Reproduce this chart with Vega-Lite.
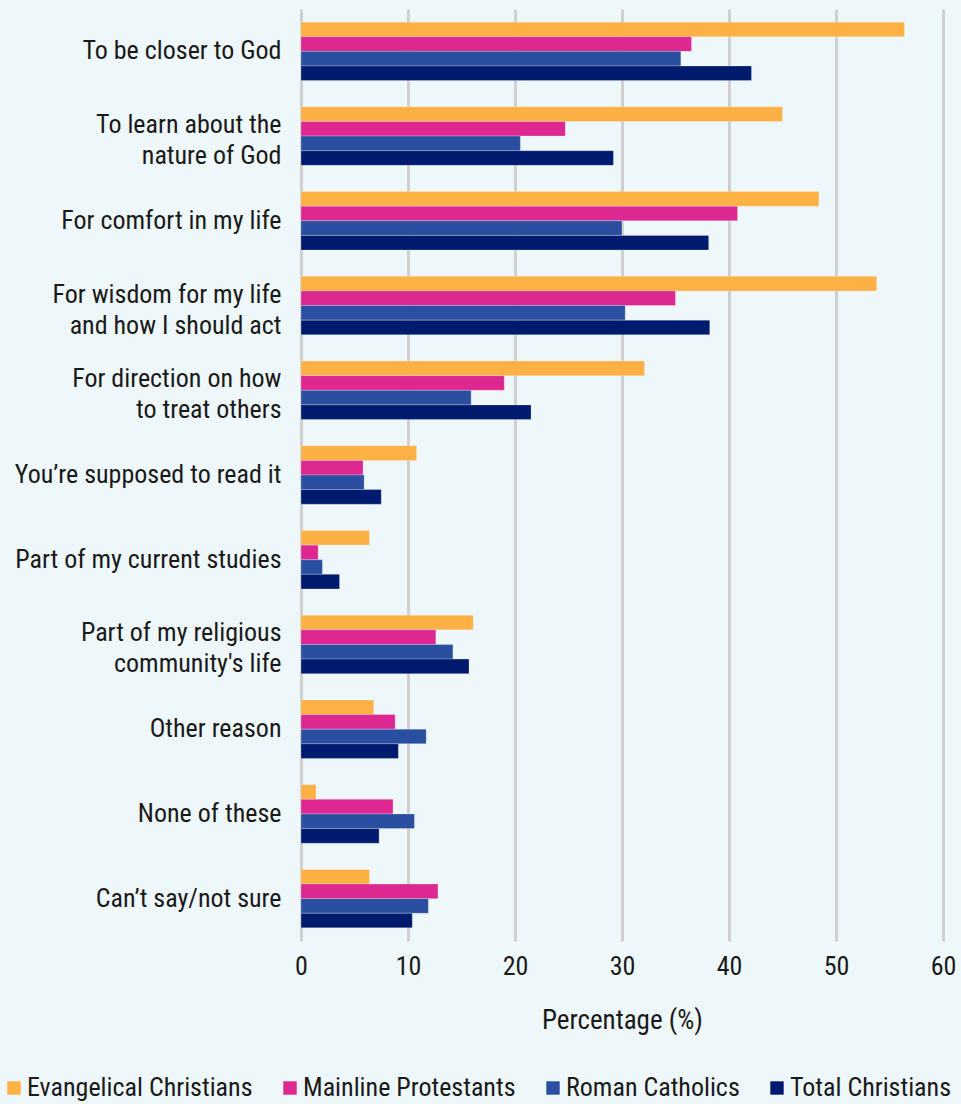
{
  "$schema": "https://vega.github.io/schema/vega-lite/v6.json",
  "width": 642,
  "height": 932,
  "autosize": {"type": "none"},
  "padding": {"left": 301, "top": 9, "right": 18, "bottom": 163},
  "background": "#eef7f9",
  "config": {
    "view": {"stroke": null},
    "font": "Roboto Condensed",
    "axis": {"labelColor": "#1a1a1a", "titleColor": "#1a1a1a", "labelFont": "Roboto Condensed", "titleFont": "Roboto Condensed"},
    "legend": {"labelFont": "Roboto Condensed"}
  },
  "data": {
    "values": [
      {"cat": "To be closer to God", "group": "Evangelical Christians", "value": 56.4},
      {"cat": "To be closer to God", "group": "Mainline Protestants", "value": 36.5},
      {"cat": "To be closer to God", "group": "Roman Catholics", "value": 35.5},
      {"cat": "To be closer to God", "group": "Total Christians", "value": 42.1},
      {"cat": "To learn about the|nature of God", "group": "Evangelical Christians", "value": 45.0},
      {"cat": "To learn about the|nature of God", "group": "Mainline Protestants", "value": 24.7},
      {"cat": "To learn about the|nature of God", "group": "Roman Catholics", "value": 20.5},
      {"cat": "To learn about the|nature of God", "group": "Total Christians", "value": 29.2},
      {"cat": "For comfort in my life", "group": "Evangelical Christians", "value": 48.4},
      {"cat": "For comfort in my life", "group": "Mainline Protestants", "value": 40.8},
      {"cat": "For comfort in my life", "group": "Roman Catholics", "value": 30.0},
      {"cat": "For comfort in my life", "group": "Total Christians", "value": 38.1},
      {"cat": "For wisdom for my life|and how I should act", "group": "Evangelical Christians", "value": 53.8},
      {"cat": "For wisdom for my life|and how I should act", "group": "Mainline Protestants", "value": 35.0},
      {"cat": "For wisdom for my life|and how I should act", "group": "Roman Catholics", "value": 30.3},
      {"cat": "For wisdom for my life|and how I should act", "group": "Total Christians", "value": 38.2},
      {"cat": "For direction on how|to treat others", "group": "Evangelical Christians", "value": 32.1},
      {"cat": "For direction on how|to treat others", "group": "Mainline Protestants", "value": 19.0},
      {"cat": "For direction on how|to treat others", "group": "Roman Catholics", "value": 15.9},
      {"cat": "For direction on how|to treat others", "group": "Total Christians", "value": 21.5},
      {"cat": "You’re supposed to read it", "group": "Evangelical Christians", "value": 10.8},
      {"cat": "You’re supposed to read it", "group": "Mainline Protestants", "value": 5.8},
      {"cat": "You’re supposed to read it", "group": "Roman Catholics", "value": 5.9},
      {"cat": "You’re supposed to read it", "group": "Total Christians", "value": 7.5},
      {"cat": "Part of my current studies", "group": "Evangelical Christians", "value": 6.4},
      {"cat": "Part of my current studies", "group": "Mainline Protestants", "value": 1.6},
      {"cat": "Part of my current studies", "group": "Roman Catholics", "value": 2.0},
      {"cat": "Part of my current studies", "group": "Total Christians", "value": 3.6},
      {"cat": "Part of my religious|community's life", "group": "Evangelical Christians", "value": 16.1},
      {"cat": "Part of my religious|community's life", "group": "Mainline Protestants", "value": 12.6},
      {"cat": "Part of my religious|community's life", "group": "Roman Catholics", "value": 14.2},
      {"cat": "Part of my religious|community's life", "group": "Total Christians", "value": 15.7},
      {"cat": "Other reason", "group": "Evangelical Christians", "value": 6.8},
      {"cat": "Other reason", "group": "Mainline Protestants", "value": 8.8},
      {"cat": "Other reason", "group": "Roman Catholics", "value": 11.7},
      {"cat": "Other reason", "group": "Total Christians", "value": 9.1},
      {"cat": "None of these", "group": "Evangelical Christians", "value": 1.4},
      {"cat": "None of these", "group": "Mainline Protestants", "value": 8.6},
      {"cat": "None of these", "group": "Roman Catholics", "value": 10.6},
      {"cat": "None of these", "group": "Total Christians", "value": 7.3},
      {"cat": "Can’t say/not sure", "group": "Evangelical Christians", "value": 6.4},
      {"cat": "Can’t say/not sure", "group": "Mainline Protestants", "value": 12.8},
      {"cat": "Can’t say/not sure", "group": "Roman Catholics", "value": 11.9},
      {"cat": "Can’t say/not sure", "group": "Total Christians", "value": 10.4}
    ]
  },
  "mark": {"type": "bar", "stroke": "#ffffff", "strokeOpacity": 0.25, "strokeWidth": 1},
  "encoding": {
    "y": {
      "field": "cat",
      "type": "nominal",
      "sort": null,
      "scale": {"paddingInner": 0.31, "paddingOuter": 0.155},
      "axis": {
        "title": null,
        "labelExpr": "split(datum.label, '|')",
        "labelFontSize": 26,
        "labelLineHeight": 31,
        "labelPadding": 20,
        "labelLimit": 320,
        "labelOffset": {"condition": {"test": "indexof(datum.value, '|') >= 0", "value": -11}, "value": 0},
        "ticks": false,
        "domain": false,
        "grid": false
      }
    },
    "yOffset": {
      "field": "group",
      "type": "nominal",
      "sort": ["Evangelical Christians", "Mainline Protestants", "Roman Catholics", "Total Christians"],
      "scale": {"paddingInner": 0, "paddingOuter": 0}
    },
    "x": {
      "field": "value",
      "type": "quantitative",
      "scale": {"domain": [0, 60], "nice": false},
      "axis": {
        "title": "Percentage (%)",
        "titleFontSize": 27,
        "titleFontWeight": "normal",
        "titlePadding": 28,
        "labelFontSize": 26,
        "labelPadding": 12,
        "values": [0, 10, 20, 30, 40, 50, 60],
        "labelOverlap": false,
        "labelFlush": false,
        "ticks": false,
        "domain": false,
        "grid": true,
        "gridColor": "#d0d0d0",
        "gridWidth": 3,
        "zindex": 0
      }
    },
    "color": {
      "field": "group",
      "type": "nominal",
      "scale": {
        "domain": ["Evangelical Christians", "Mainline Protestants", "Roman Catholics", "Total Christians"],
        "range": ["#fdb043", "#dc2890", "#2a4fa0", "#001a6e"]
      },
      "legend": {
        "title": null,
        "orient": "none",
        "direction": "horizontal",
        "legendX": -300,
        "legendY": 1066,
        "symbolType": "square",
        "symbolSize": 180,
        "symbolStrokeWidth": 0,
        "symbolOpacity": 1,
        "labelFontSize": 26,
        "labelColor": "#1a1a1a",
        "labelOffset": 0,
        "columnPadding": 24,
        "labelLimit": 400
      }
    }
  }
}
